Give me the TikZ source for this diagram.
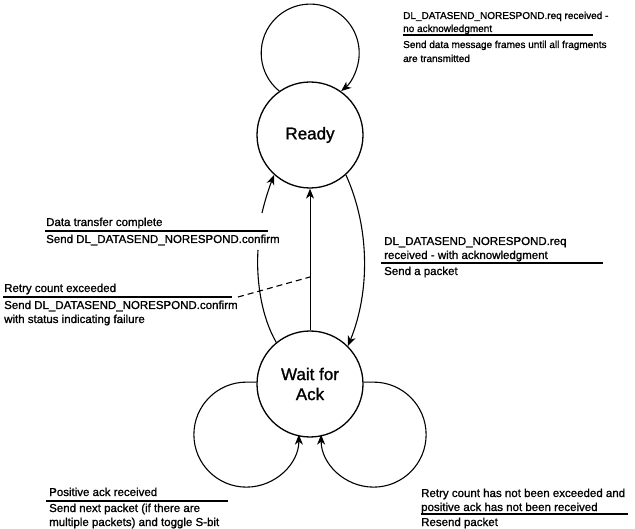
\documentclass[tikz,border=0pt]{standalone}
\usepackage{fontspec}
\setmainfont{Liberation Sans}[FakeBold=1.2]
\usetikzlibrary{arrows.meta}
\begin{document}
\begin{tikzpicture}[x=1pt,y=-1pt,
  state/.style={circle, draw, line width=1.3pt, minimum size=106pt, inner sep=0pt,
    font=\fontsize{17}{20}\selectfont, align=center},
  lbl/.style={anchor=base west, inner sep=0pt, font=\fontsize{11.5}{14}\selectfont},
  lbls/.style={anchor=base west, inner sep=0pt, font=\fontsize{10}{12}\selectfont},
  uline/.style={line width=1.4pt},
  conn/.style={line width=1.1pt},
  edge/.style={conn, -{Stealth[length=10pt,width=8pt,inset=3pt]}}]
\useasboundingbox (0,0) rectangle (635,529);

% states
\node[state] (ready) at (310,135) {Ready};
\node[state] (wait) at (310,384) {Wait for\\Ack};

% self loop on Ready
\draw[edge] (ready.125.7) arc[start angle=129.2, end angle=410.8, radius=49];

% Ready -> Wait
\draw[edge] (ready.-48) .. controls (370,228) and (370,292) .. (wait.45);

% Wait -> Ready (straight)
\draw[edge, line width=0.9pt] (wait.north) -- (ready.south);

% Wait -> Ready (curved, broken by the label)
\coordinate (gapB) at (258,250);
\coordinate (gapA) at (262,213);
\draw[conn] (wait.129) .. controls (262,318) and (256,282) .. (gapB);
\draw[edge] (gapA) .. controls (265,200) and (269,188) .. (ready.228);

% dashed pointer
\coordinate (dstart) at (238,297);
\coordinate (dend) at (310,277);
\draw[conn, dash pattern=on 6pt off 4pt] (dstart) -- (dend);

% self loops on Wait
\draw[edge] (wait.178) -- ++(-10,0) arc[start angle=-90, end angle=-360, radius=52.5];
\draw[edge] (wait.2) -- ++(10,0) arc[start angle=-90, end angle=180, radius=52.5];

% top label
\node[lbls] (t1) at (403,19) {DL\_DATASEND\_NORESPOND.req received -};
\node[lbls] (t2) at (403,32) {no acknowledgment};
\draw[uline] (403,35) -- (593,35);
\node[lbls] (t3) at (403,48) {Send data message frames until all fragments};
\node[lbls] (t4) at (403,62) {are transmitted};

% middle right label
\node[lbl] (m1) at (384,245) {DL\_DATASEND\_NORESPOND.req};
\node[lbl] (m2) at (384,259) {received - with acknowledgment};
\draw[uline] (381,263) -- (603,263);
\node[lbl] (m3) at (384,275) {Send a packet};

% data transfer complete
\node[lbl] (d1) at (46,226) {Data transfer complete};
\draw[uline] (45,231) -- (268,231);
\node[lbl] (d2) at (46,243) {Send DL\_DATASEND\_NORESPOND.confirm};

% retry count exceeded
\node[lbl] (r1) at (4,292) {Retry count exceeded};
\draw[uline] (3,297) -- (232,297);
\node[lbl] (r2) at (4,309) {Send DL\_DATASEND\_NORESPOND.confirm};
\node[lbl] (r3) at (4,323) {with status indicating failure};

% bottom left
\node[lbl] (p1) at (49,496) {Positive ack received};
\draw[uline] (46,501) -- (228,501);
\node[lbl] (p2) at (49,512) {Send next packet (if there are};
\node[lbl] (p3) at (49,526) {multiple packets) and toggle S-bit};

% bottom right
\node[lbl] (n1) at (421,497) {Retry count has not been exceeded and};
\node[lbl] (n2) at (421,511) {positive ack has not been received};
\draw[uline] (421,514) -- (628,514);
\node[lbl] (n3) at (421,526) {Resend packet};
\end{tikzpicture}
\end{document}
